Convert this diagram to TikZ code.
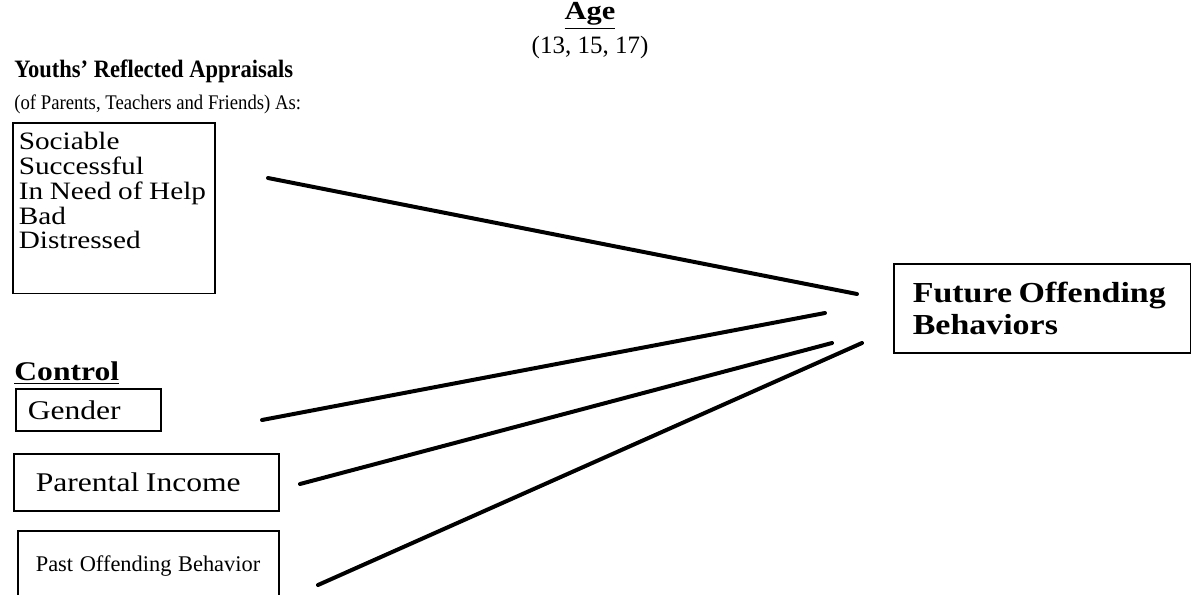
\documentclass[tikz,border=0pt]{standalone}
\usepackage{fontspec}
\setmainfont{Liberation Serif}
\newfontfamily\widefont[FakeStretch=1.17]{Liberation Serif}
\newfontfamily\narrowfont[FakeStretch=0.9]{Liberation Serif}
\usetikzlibrary{positioning}
\begin{document}
\begin{tikzpicture}[x=0.5pt,y=-0.5pt,
    box/.style={draw, line width=0.8pt, anchor=north west, inner ysep=0pt, inner xsep=6pt, align=left},
    path/.style={line width=2pt, line cap=round}]
  \useasboundingbox (0,0) rectangle (1191,595);
  \clip (0,0) rectangle (1191,595);
  % headings
  \node (age) at (590,16) {\widefont\fontsize{13}{15}\selectfont\bfseries\underline{Age}};
  \node (ages) at (590,47) {\fontsize{12.5}{15}\selectfont (13, 15, 17)};
  \node[anchor=west, inner sep=0pt] (ra) at (14,71) {\narrowfont\fontsize{12.5}{15}\selectfont\bfseries Youths’ Reflected Appraisals};
  \node[anchor=west, inner sep=0pt] (of) at (14,104) {\narrowfont\fontsize{10.4}{13}\selectfont (of Parents, Teachers and Friends) As:};
  \node[anchor=west, inner sep=0pt] (ctrl) at (14,373) {\widefont\fontsize{13.5}{15}\selectfont\bfseries\underline{Control}};
  % boxes
  \node[box, text width=95pt, inner xsep=3pt, inner ysep=4.8pt] (appr) at (12,122)
    {\widefont\fontsize{12.5}{12.4}\selectfont Sociable\\Successful\\In Need of Help\\Bad\\Distressed\\[5.5pt]\mbox{}};
  \node[box, text width=60.5pt, minimum height=21pt] (gen) at (15,388)
    {\widefont\fontsize{13.5}{15}\selectfont Gender};
  \node[box, text width=110.5pt, minimum height=28.5pt, inner xsep=11pt] (inc) at (13,453)
    {\widefont\fontsize{13.5}{15}\selectfont Parental Income};
  \node[box, text width=112.5pt, minimum height=35pt, inner xsep=9pt] (past) at (17,530)
    {\fontsize{11.2}{15}\selectfont\mbox{Past Offending Behavior}};
  \node[box, text width=129.5pt, minimum height=44.5pt, inner xsep=9.5pt] (fut) at (893,263)
    {\widefont\fontsize{14.5}{17}\selectfont\bfseries\mbox{Future Offending}\\[2pt]Behaviors};
  % paths
  \coordinate (a1) at (268,178);
  \coordinate (b1) at (857,294);
  \coordinate (a2) at (262,420);
  \coordinate (b2) at (825,313);
  \coordinate (a3) at (300,484);
  \coordinate (b3) at (832,343);
  \coordinate (a4) at (318,585);
  \coordinate (b4) at (862,343);
  \draw[path] (a1) -- (b1);
  \draw[path] (a2) -- (b2);
  \draw[path] (a3) -- (b3);
  \draw[path] (a4) -- (b4);
\end{tikzpicture}
\end{document}
